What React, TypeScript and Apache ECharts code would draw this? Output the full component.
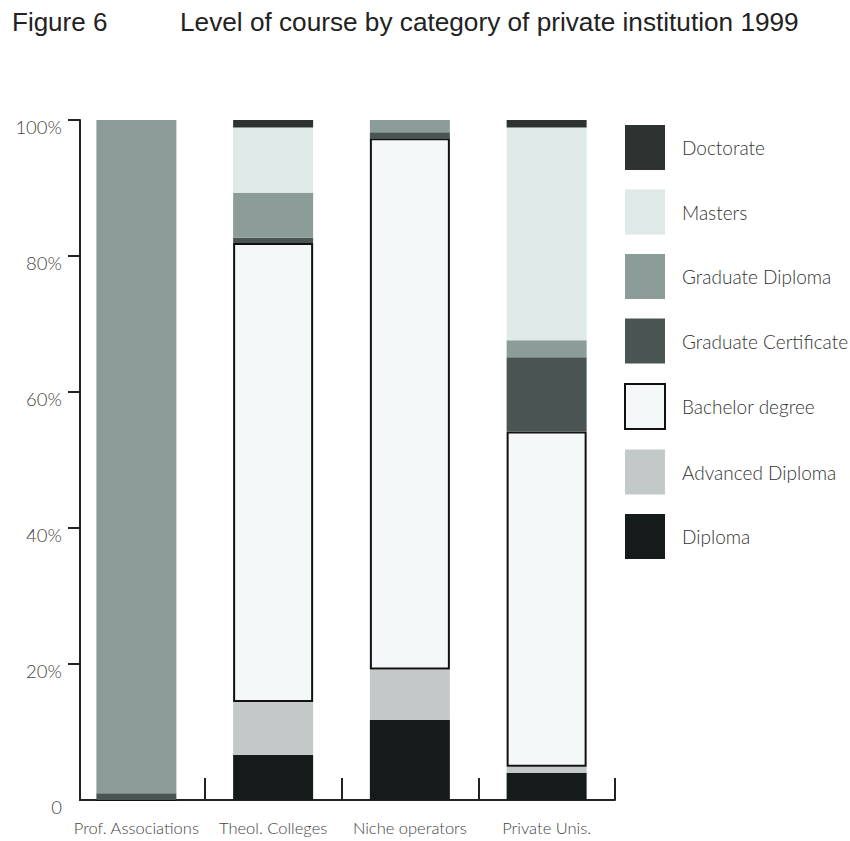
import React, { useEffect, useRef } from "react";
import * as echarts from "echarts";

const categories = ["Prof. Associations", "Theol. Colleges", "Niche operators", "Private Unis."];
const yTicks = [0, 20, 40, 60, 80, 100];

const diploma = [0, 6.6, 11.8, 4.0];
const advancedDiploma = [0, 7.8, 7.4, 0.9];
const bachelorDegree = [0, 67.5, 78.1, 49.3];
const graduateCertificate = [1.0, 0.8, 0.9, 10.9];
const graduateDiploma = [99.0, 6.6, 1.9, 2.5];
const masters = [0, 9.6, 0, 31.3];
const doctorate = [0, 1.2, 0, 1.2];

const seriesNames = [
  "Diploma",
  "Advanced Diploma",
  "Bachelor degree",
  "Graduate Certificate",
  "Graduate Diploma",
  "Masters",
  "Doctorate",
];
const seriesData = [diploma, advancedDiploma, bachelorDegree, graduateCertificate, graduateDiploma, masters, doctorate];
const seriesColors = ["#151b1a", "#c3c9c8", "#f4f8f8", "#4a5553", "#8c9d99", "#dfe9e7", "#2e3231"];

const thinFont = "Lato";

export default function App() {
  const ref = useRef<HTMLDivElement>(null);
  useEffect(() => {
    document.body.style.margin = "0";
    const chart = echarts.init(ref.current!, null, { renderer: "svg" });
    const series = seriesNames.map((name, i) => ({
      name,
      type: "bar",
      stack: "total",
      barWidth: 80,
      data: seriesData[i],
      itemStyle:
        name === "Bachelor degree"
          ? { color: seriesColors[i], borderColor: "#111", borderWidth: 2 }
          : { color: seriesColors[i] },
      emphasis: { disabled: true },
    }));
    chart.setOption({
      animation: false,
      backgroundColor: "#ffffff",
      title: [
        {
          text: "Figure 6",
          left: 7,
          top: 4,
          textStyle: { fontFamily: "Liberation Sans Narrow, Liberation Sans", fontSize: 26, fontWeight: "normal", color: "#222" },
        },
        {
          text: "Level of course by category of private institution 1999",
          left: 175,
          top: 4,
          textStyle: { fontFamily: "Liberation Sans Narrow, Liberation Sans", fontSize: 26.2, fontWeight: "normal", color: "#222" },
        },
      ],
      legend: {
        orient: "vertical",
        left: 619,
        top: 120,
        icon: "rect",
        itemWidth: 40,
        itemHeight: 45,
        itemGap: 19.5,
        selectedMode: false,
        data: [...seriesNames].reverse(),
        textStyle: { fontFamily: thinFont, fontWeight: 300, fontSize: 19, color: "#333", padding: [0, 0, 0, 12] },
      },
      grid: { left: 68, right: 235, top: 120, bottom: 41 },
      graphic: [
        {
          type: "rect",
          z: 100,
          silent: true,
          shape: { x: 66, y: 774, width: 13, height: 29 },
          style: { fill: "#ffffff" },
        },
      ],
      xAxis: {
        type: "category",
        data: categories,
        axisLine: { show: true, lineStyle: { color: "#222", width: 2 } },
        axisTick: {
          show: true,
          inside: true,
          alignWithLabel: false,
          length: 22,
          lineStyle: { color: "#222", width: 2 },
          interval: 0,
        },
        axisLabel: { interval: 0, margin: 19, fontFamily: thinFont, fontWeight: 300, fontSize: 16.5, color: "#444" },
      },
      yAxis: {
        type: "value",
        min: 0,
        max: 100,
        interval: 20,
        offset: -12,
        axisLine: { show: true, lineStyle: { color: "#222", width: 2 } },
        axisTick: { show: true, inside: false, length: 12, lineStyle: { color: "#222", width: 2 } },
        splitLine: { show: false },
        axisLabel: {
          margin: 18,
          fontFamily: thinFont,
          fontWeight: 300,
          fontSize: 18.5,
          color: "#444",
          verticalAlign: "top",
          lineHeight: 14,
          formatter: (v: number) => (yTicks.includes(v) ? (v === 0 ? "0" : v + "%") : ""),
        },
      },
      series,
    });
    return () => chart.dispose();
  }, []);
  return <div ref={ref} style={{ position: "absolute", left: 0, top: 0, width: 850, height: 841 }} />;
}
